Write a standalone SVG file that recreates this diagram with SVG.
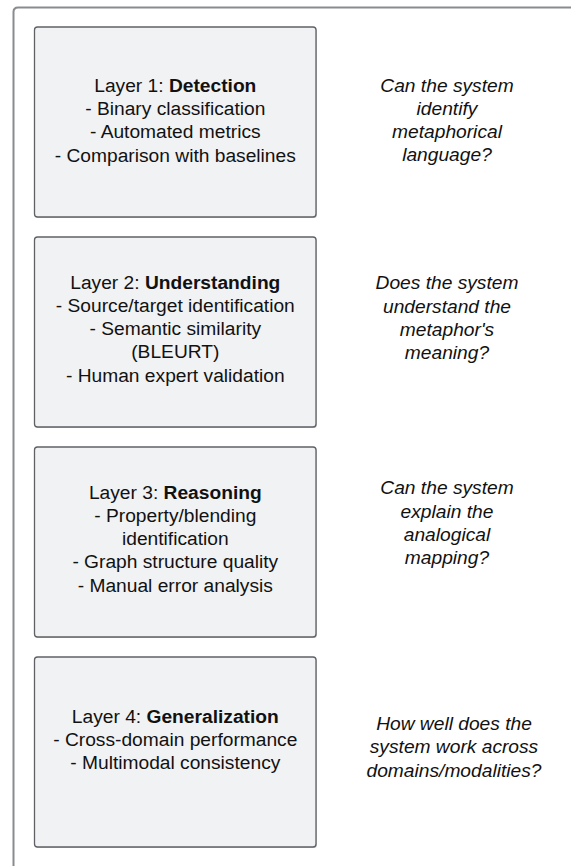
<svg xmlns="http://www.w3.org/2000/svg" width="571" height="866" viewBox="0 0 571 866">
<style>
.box{fill:#f1f2f4;stroke:#5f6166;stroke-width:1.3}
.shadow{fill:#9a9ca0;opacity:0.5}
.lt{font-family:"Liberation Sans",Arial,sans-serif;font-size:19.2px;fill:#111;text-anchor:middle}
.rt{font-family:"Liberation Sans",Arial,sans-serif;font-size:19.2px;font-style:italic;fill:#111;text-anchor:middle}
.b{font-weight:bold}
</style>
<rect width="571" height="866" fill="#ffffff"/>
<path id="frame" d="M13.5,880 V12 Q13.5,7.5 18,7.5 H590" fill="none" stroke="#8a8b8e" stroke-width="2"/>
<g id="layer1">
<rect class="shadow" x="35.5" y="28" width="281.5" height="190" rx="3"/>
<rect class="box" x="34.5" y="27" width="281.5" height="190" rx="3"/>
<text class="lt" x="175.3" y="91.7">Layer 1: <tspan class="b">Detection</tspan></text>
<text class="lt" x="175.3" y="115">- Binary classification</text>
<text class="lt" x="175.3" y="138.3">- Automated metrics</text>
<text class="lt" x="175.3" y="161.6">- Comparison with baselines</text>
</g>
<g id="q1">
<text class="rt" x="447" y="91.5">Can the system</text>
<text class="rt" x="447" y="114.8">identify</text>
<text class="rt" x="447" y="138.1">metaphorical</text>
<text class="rt" x="447" y="161.4">language?</text>
</g>
<g id="layer2">
<rect class="shadow" x="35.5" y="238" width="281.5" height="190" rx="3"/>
<rect class="box" x="34.5" y="237" width="281.5" height="190" rx="3"/>
<text class="lt" x="175.3" y="288.5">Layer 2: <tspan class="b">Understanding</tspan></text>
<text class="lt" x="175.3" y="311.8">- Source/target identification</text>
<text class="lt" x="175.3" y="335.1">- Semantic similarity</text>
<text class="lt" x="175.3" y="358.4">(BLEURT)</text>
<text class="lt" x="175.3" y="381.7">- Human expert validation</text>
</g>
<g id="q2">
<text class="rt" x="447" y="289.3">Does the system</text>
<text class="rt" x="447" y="312.6">understand the</text>
<text class="rt" x="447" y="335.9">metaphor's</text>
<text class="rt" x="447" y="359.2">meaning?</text>
</g>
<g id="layer3">
<rect class="shadow" x="35.5" y="448" width="281.5" height="190" rx="3"/>
<rect class="box" x="34.5" y="447" width="281.5" height="190" rx="3"/>
<text class="lt" x="175.3" y="498.5">Layer 3: <tspan class="b">Reasoning</tspan></text>
<text class="lt" x="175.3" y="521.8">- Property/blending</text>
<text class="lt" x="175.3" y="545.1">identification</text>
<text class="lt" x="175.3" y="568.4">- Graph structure quality</text>
<text class="lt" x="175.3" y="591.7">- Manual error analysis</text>
</g>
<g id="q3">
<text class="rt" x="447" y="494.3">Can the system</text>
<text class="rt" x="447" y="517.6">explain the</text>
<text class="rt" x="447" y="540.9">analogical</text>
<text class="rt" x="447" y="564.2">mapping?</text>
</g>
<g id="layer4">
<rect class="shadow" x="35.5" y="658" width="281.5" height="190" rx="3"/>
<rect class="box" x="34.5" y="657" width="281.5" height="190" rx="3"/>
<text class="lt" x="175.3" y="722.7">Layer 4: <tspan class="b">Generalization</tspan></text>
<text class="lt" x="175.3" y="746">- Cross-domain performance</text>
<text class="lt" x="175.3" y="769.3">- Multimodal consistency</text>
</g>
<g id="q4">
<text class="rt" x="454" y="730">How well does the</text>
<text class="rt" x="454" y="753.3">system work across</text>
<text class="rt" x="454" y="776.6">domains/modalities?</text>
</g>
<g id="connectors"></g>
</svg>
